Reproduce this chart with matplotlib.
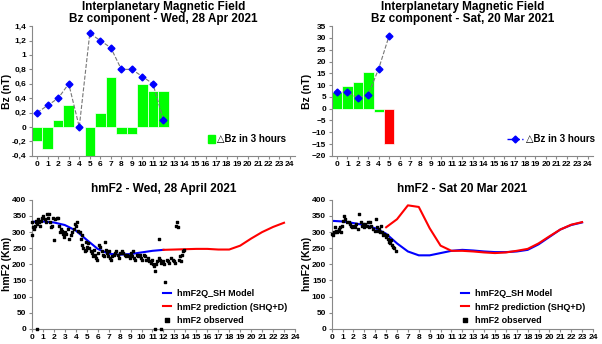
import matplotlib.pyplot as plt
from matplotlib.lines import Line2D
from matplotlib.patches import Patch

plt.rcParams['font.family'] = ['Liberation Sans', 'DejaVu Sans']
plt.rcParams['font.weight'] = 'bold'

hours = list(range(25))

# --- top panels: IMF Bz ---
apr_hours = [0, 1, 2, 3, 4, 5, 6, 7, 8, 9, 10, 11, 12]
apr_bz = [0.2, 0.3, 0.4, 0.6, 0.0, 1.3, 1.2, 1.1, 0.8, 0.8, 0.7, 0.6, 0.1]
apr_dbz = [-0.2, -0.3, 0.1, 0.3, 0.0, -0.5, 0.2, 0.7, -0.1, -0.1, 0.6, 0.5, 0.5]

mar_hours = [0, 1, 2, 3, 4, 5]
mar_bz = [7, 7, 4.5, 6, 17, 31]
mar_dbz = [7, 9.5, 11.5, 15.5, -1.2, -15]
mar_colors = ['#00ff00', '#00ff00', '#00ff00', '#00ff00', '#00ff00', '#ff0000']

# --- bottom panels: hmF2 ---
apr_model_h = [0, 1, 2, 3, 4, 5, 6, 7, 8, 9, 10, 11, 12]
apr_model = [332, 333, 330, 322, 305, 276, 248, 233, 230, 232, 237, 242, 245]
apr_pred_h = [12, 13, 14, 15, 16, 17, 18, 19, 20, 21, 22, 23]
apr_pred = [245, 246, 247, 248, 248, 246, 246, 258, 280, 300, 316, 329]

apr_obs_h = [0.02, 0.05, 0.1, 0.15, 0.2, 0.3, 0.35, 0.4, 0.45, 0.55, 0.65, 0.75, 0.85, 0.95,
             1.05, 1.15, 1.25, 1.35, 1.45, 1.55, 1.65, 1.75, 1.85, 1.95,
             2.05, 2.15, 2.25, 2.35, 2.45, 2.55, 2.65, 2.75, 2.85, 2.95,
             3.05, 3.15, 3.25, 3.4, 3.55, 3.7, 3.85, 3.95,
             4.05, 4.15, 4.25, 4.35, 4.45, 4.55, 4.6, 4.7, 4.8, 4.9, 4.95,
             5.05, 5.15, 5.25, 5.35, 5.45, 5.55, 5.65, 5.75, 5.85, 5.95,
             6.05, 6.15, 6.25, 6.35, 6.45, 6.55, 6.65, 6.75, 6.85, 6.95,
             7.05, 7.15, 7.25, 7.35, 7.45, 7.55, 7.7, 7.85, 7.95,
             8.05, 8.2, 8.35, 8.45, 8.55, 8.7, 8.85, 8.95,
             9.05, 9.15, 9.25, 9.35, 9.45, 9.55, 9.7, 9.85, 9.95,
             10.05, 10.2, 10.35, 10.45, 10.55, 10.7, 10.85, 10.95,
             11.05, 11.15, 11.25, 11.35, 11.45, 11.55, 11.6, 11.7, 11.8, 11.95,
             12.05, 12.15, 12.3, 12.45, 12.55, 12.7, 12.85, 12.95,
             13.05, 13.15, 13.25, 13.3, 13.4, 13.5, 13.6, 13.7, 13.8, 13.9,
             0.45, 11.2, 11.8]
apr_obs = [290, 330, 315, 310, 315, 320, 330, 335, 325, 340, 330, 320, 335, 345,
           350, 340, 330, 355, 345, 355, 330, 315, 320, 345,
           275, 340, 345, 345, 320, 300, 310, 305, 295, 285,
           300, 295, 310, 280, 290, 300, 310, 325,
           320, 330, 305, 300, 280, 290, 260, 250, 240, 245, 270,
           255, 265, 250, 240, 235, 225, 245, 230, 220, 215,
           235, 260, 255, 240, 230, 225, 270, 245, 235, 225,
           240, 220, 215, 225, 230, 235, 240, 230, 220,
           235, 240, 235, 230, 225, 230, 225, 220,
           235, 225, 240, 220, 215, 230, 225, 230, 220,
           215, 230, 225, 215, 220, 210, 205, 215,
           200, 195, 180, 200, 210, 220, 280, 215, 205, 210,
           200, 145, 215, 210, 205, 220, 215, 210,
           205, 320, 330, 315, 215, 225, 210, 230, 240, 245,
           0, 0, 0]

mar_model_h = list(range(24))
mar_model = [335, 333, 328, 322, 312, 295, 265, 240, 228, 228, 235, 242, 245, 243, 240,
             238, 238, 240, 245, 262, 285, 308, 322, 330]
mar_pred_h = [5, 6, 7, 8, 9, 10, 11, 12, 13, 14, 15, 16, 17, 18, 19, 20, 21, 22, 23]
mar_pred = [315, 340, 383, 378, 312, 258, 242, 242, 240, 237, 235, 237, 242, 248, 265, 287,
            308, 323, 331]

mar_obs_h = [0.02, 0.1, 0.2, 0.3, 0.4, 0.5, 0.6, 0.7, 0.8, 0.9, 0.95,
             1.05, 1.15, 1.25, 1.4, 1.55, 1.65, 1.75, 1.9,
             2.05, 2.15, 2.25, 2.4, 2.55, 2.65, 2.75, 2.85, 2.95,
             3.05, 3.2, 3.35, 3.45, 3.55, 3.65, 3.8, 3.95,
             4.05, 4.15, 4.25, 4.35, 4.45, 4.55, 4.65, 4.75, 4.85, 4.95,
             5.05, 5.15, 5.25, 5.35, 5.45, 5.55, 5.65, 5.75, 5.9, 0.3]
mar_obs = [295, 290, 300, 300, 305, 300, 305, 310, 315, 300, 320,
           335, 350, 340, 330, 330, 325, 320, 315,
           320, 315, 325, 310, 355, 330, 320, 325, 315,
           325, 320, 330, 315, 330, 320, 310, 305,
           340, 315, 305, 310, 300, 320, 300, 290, 295, 285,
           290, 280, 270, 265, 275, 260, 255, 250, 240, 315]

fig = plt.figure(figsize=(6.02, 3.44), dpi=100)

green = '#00ff00'
spine_col = '#888888'


def style(ax):
    ax.spines['top'].set_visible(False)
    ax.spines['right'].set_visible(False)
    ax.spines['left'].set_color(spine_col)
    ax.spines['bottom'].set_color(spine_col)
    ax.tick_params(labelsize=6, length=2.5, color=spine_col, pad=1.5)
    for lab in ax.get_xticklabels() + ax.get_yticklabels():
        lab.set_fontweight('bold')
    ax.yaxis.set_label_coords(-0.077, 0.5)


# top left
ax1 = fig.add_axes([0.053, 0.547, 0.437, 0.377])
ax1.bar(apr_hours, apr_dbz, width=1.0, color=green, edgecolor='white', linewidth=0.5)
ax1.plot(apr_hours, apr_bz, linestyle='--', color='#777777', linewidth=0.8,
         marker='D', markersize=3.5, markerfacecolor='#0000ff', markeredgecolor='#0000ff')
ax1.set_xlim(-0.5, 24.5)
ax1.set_ylim(-0.4, 1.4)
ax1.set_xticks(hours)
ax1.set_yticks([-0.4, -0.2, 0, 0.2, 0.4, 0.6, 0.8, 1.0, 1.2, 1.4])
ax1.set_yticklabels(['-0,4', '-0,2', '0', '0,2', '0,4', '0,6', '0,8', '1', '1,2', '1,4'])
ax1.set_ylabel('Bz (nT)', fontsize=7.5, fontweight='bold')
ax1.set_title('Interplanetary Magnetic Field\nBz component - Wed, 28 Apr 2021',
              fontsize=8.5, fontweight='bold', pad=3, linespacing=0.95)
ax1.legend(handles=[Patch(color=green, label='△Bz in 3 hours')], loc='lower right',
           bbox_to_anchor=(1.0, 0.02), frameon=False, handlelength=0.8,
           handleheight=0.8, handletextpad=0.2, prop={'weight': 'bold', 'size': 7})
style(ax1)

# top right
ax2 = fig.add_axes([0.551, 0.547, 0.434, 0.377])
ax2.bar(mar_hours, mar_dbz, width=1.0, color=mar_colors, edgecolor='white', linewidth=0.5)
ax2.plot(mar_hours, mar_bz, linestyle='--', color='#777777', linewidth=0.8,
         marker='D', markersize=3.5, markerfacecolor='#0000ff', markeredgecolor='#0000ff')
ax2.set_xlim(-0.5, 24.5)
ax2.set_ylim(-20, 35)
ax2.set_xticks(hours)
ax2.set_yticks(range(-20, 36, 5))
ax2.set_ylabel('Bz (nT)', fontsize=7.5, fontweight='bold')
ax2.set_title('Interplanetary Magnetic Field\nBz component - Sat, 20 Mar 2021',
              fontsize=8.5, fontweight='bold', pad=3, linespacing=0.95)
ax2.legend(handles=[Line2D([0], [0], linestyle='--', color='#0000ff', marker='D',
                           markersize=3.5, linewidth=1, label='△Bz in 3 hours')],
           loc='lower right', bbox_to_anchor=(1.04, 0.02), frameon=False,
           handlelength=1.6, handletextpad=0.3, prop={'weight': 'bold', 'size': 7})
style(ax2)


def hm_panel(rect, title, model_h, model, pred_h, pred, obs_h, obs):
    ax = fig.add_axes(rect)
    ax.plot(model_h, model, color='#0000ff', linewidth=1.5, label='hmF2Q_SH Model')
    ax.plot(pred_h, pred, color='#ff0000', linewidth=1.5, label='hmF2 prediction (SHQ+D)')
    ax.scatter(obs_h, obs, s=2.5, marker='s', color='black', label='hmF2 observed',
               zorder=3, clip_on=False)
    ax.set_xlim(0, 24)
    ax.set_ylim(0, 400)
    ax.set_xticks(hours)
    ax.set_yticks(range(0, 401, 50))
    ax.set_ylabel('hmF2 (Km)', fontsize=7.5, fontweight='bold')
    ax.set_title(title, fontsize=8.5, fontweight='bold', pad=6)
    ax.legend(loc='lower right', bbox_to_anchor=(1.0, -0.03), frameon=False,
              handlelength=0.9, handletextpad=0.6, labelspacing=0.45, markerscale=1.5,
              prop={'weight': 'bold', 'size': 6.5})
    style(ax)
    return ax


hm_panel([0.053, 0.044, 0.437, 0.375], 'hmF2 - Wed, 28 April 2021',
         apr_model_h, apr_model, apr_pred_h, apr_pred, apr_obs_h, apr_obs)
hm_panel([0.551, 0.044, 0.434, 0.375], 'hmF2 - Sat 20 Mar 2021',
         mar_model_h, mar_model, mar_pred_h, mar_pred, mar_obs_h, mar_obs)

fig.savefig('out.png', dpi=100)
